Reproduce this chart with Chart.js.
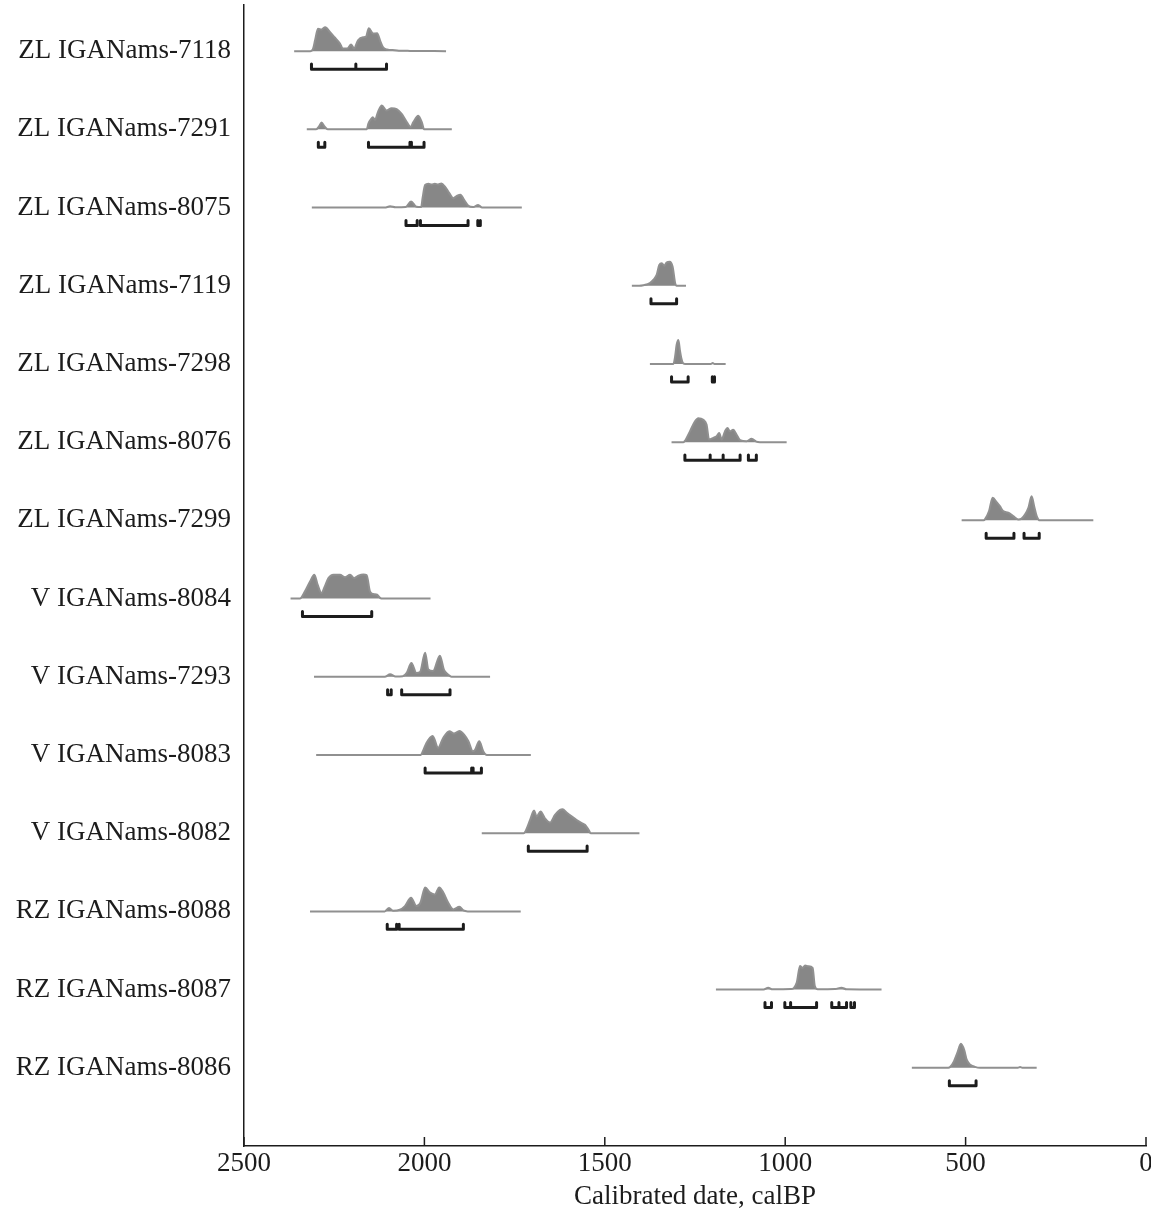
<!DOCTYPE html>
<html>
<head>
<meta charset="utf-8">
<title>Calibrated radiocarbon dates</title>
<script src="https://cdn.jsdelivr.net/npm/chart.js@4/dist/chart.umd.min.js"></script>
<style>
  html, body { margin: 0; padding: 0; background: #ffffff; }
  canvas { display: block; }
</style>
</head>
<body>
<canvas id="chart" width="1151" height="1213"></canvas>
<script>
// Sample names, top to bottom
const sampleLabels = [
  'ZL IGANams-7118', 'ZL IGANams-7291', 'ZL IGANams-8075', 'ZL IGANams-7119',
  'ZL IGANams-7298', 'ZL IGANams-8076', 'ZL IGANams-7299', 'V IGANams-8084',
  'V IGANams-7293', 'V IGANams-8083', 'V IGANams-8082', 'RZ IGANams-8088',
  'RZ IGANams-8087', 'RZ IGANams-8086'
];

// Extent of each probability baseline, [older, younger] cal BP
const curveSpans = [
  [2361, 1940], [2326, 1924], [2312, 1730], [1425, 1275], [1375, 1165],
  [1315, 996], [511, 146], [2371, 1983], [2306, 1818], [2300, 1705],
  [1841, 1404], [2317, 1733], [1192, 733], [649, 303]
];

// Calibrated probability densities: [cal BP, relative probability %]
const density7118 = [[2316,0],[2309,8],[2303,45],[2295,93],[2285,90],[2275,100],[2262,80],[2249,58],[2234,32],[2226,11],[2214,11],[2203,28],[2195,11],[2184,45],[2170,58],[2162,60],[2154,95],[2142,73],[2131,75],[2123,45],[2115,17],[2104,7],[2082,4],[2068,2],[2040,1]];
const density7291 = [[2300,0],[2292,12],[2285,29],[2277,12],[2268,0],[2160,0],[2155,25],[2147,45],[2143,50],[2137,40],[2128,75],[2118,99],[2105,78],[2091,88],[2077,84],[2063,64],[2051,36],[2038,10],[2031,29],[2017,57],[2007,29],[2001,0]];
const density8075 = [[2110,0],[2095,5],[2080,1],[2052,2],[2037,25],[2022,3],[2009,2],[2005,40],[1998,94],[1989,99],[1980,96],[1971,99],[1962,96],[1953,100],[1943,87],[1931,60],[1920,39],[1909,49],[1900,53],[1890,32],[1878,7],[1865,2],[1851,11],[1840,0]];
const density7119 = [[1405,0],[1393,2],[1375,11],[1365,25],[1356,46],[1349,87],[1342,94],[1335,83],[1329,97],[1320,100],[1312,79],[1305,11],[1301,0]];
const density7298 = [[1310,0],[1305,32],[1301,79],[1296,100],[1292,59],[1288,25],[1284,5],[1278,0],[1206,0],[1201,4],[1196,0]];
const density8076 = [[1282,0],[1278,5],[1264,45],[1250,87],[1241,100],[1227,93],[1218,73],[1211,11],[1199,18],[1190,25],[1183,38],[1176,11],[1167,45],[1160,59],[1153,45],[1144,52],[1135,32],[1125,8],[1107,4],[1093,14],[1080,2],[1070,0]];
const density7299 = [[450,0],[446,5],[435,39],[425,94],[414,76],[405,59],[396,39],[382,32],[368,18],[354,4],[345,7],[335,25],[326,52],[317,100],[310,59],[303,18],[294,0]];
const density8084 = [[2345,0],[2331,30],[2317,71],[2305,99],[2296,58],[2285,23],[2276,51],[2266,85],[2252,99],[2234,99],[2220,89],[2206,99],[2195,85],[2183,95],[2169,100],[2160,98],[2151,30],[2142,19],[2131,16],[2123,3],[2115,0]];
const density7293 = [[2110,0],[2095,10],[2080,1],[2060,2],[2049,16],[2036,57],[2022,16],[2012,20],[1998,100],[1989,30],[1976,24],[1957,88],[1946,30],[1934,9],[1925,0]];
const density8083 = [[2010,0],[2003,20],[1994,51],[1977,79],[1962,30],[1948,71],[1931,99],[1918,89],[1903,100],[1890,85],[1878,57],[1866,16],[1860,20],[1848,57],[1837,16],[1827,0]];
const density8082 = [[1725,0],[1721,5],[1707,55],[1696,94],[1689,70],[1678,90],[1666,62],[1652,44],[1638,76],[1624,97],[1617,100],[1606,86],[1592,70],[1578,55],[1564,42],[1555,35],[1545,14],[1539,0]];
const density8088 = [[2110,0],[2098,14],[2087,3],[2068,7],[2054,22],[2037,57],[2022,22],[2011,36],[1998,99],[1984,78],[1971,70],[1959,100],[1948,80],[1934,36],[1920,8],[1903,19],[1892,4],[1880,0]];
const density8087 = [[1060,0],[1047,8],[1035,1],[985,2],[968,29],[959,98],[952,90],[945,100],[936,97],[924,90],[918,15],[910,1],[862,2],[844,8],[830,1]];
const density8086 = [[548,0],[543,3],[532,28],[523,62],[513,100],[504,75],[497,34],[488,14],[474,4],[460,0],[355,0],[349,3],[343,0]];

const densityCurves = [
  density7118, density7291, density8075, density7119, density7298, density8076, density7299,
  density8084, density7293, density8083, density8082, density8088, density8087, density8086
];

// 95.4% probability ranges, [from, to] cal BP
const rangeBrackets = [
  [[2313, 2190], [2190, 2105]],
  [[2294, 2276], [2155, 2040], [2036, 2001]],
  [[2051, 2020], [2011, 1879], [1852, 1845]],
  [[1372, 1301]],
  [[1315, 1269], [1202, 1196]],
  [[1278, 1208], [1208, 1172], [1172, 1125], [1102, 1080]],
  [[443, 366], [338, 296]],
  [[2338, 2146]],
  [[2102, 2092], [2063, 1929]],
  [[1998, 1869], [1865, 1842]],
  [[1712, 1549]],
  [[2103, 2077], [2070, 1892]],
  [[1056, 1038], [1001, 985], [985, 913], [871, 851], [851, 830], [818, 808]],
  [[545, 471]]
];

const axisTicks = [2500, 2000, 1500, 1000, 500, 0];

// Row geometry in y-axis units (one unit per sample row)
const PEAK_HEIGHT = 0.307;
const BRACKET_DROP = 0.23;
const HOOK = 0.065;

const serif = '"Liberation Serif", "Times New Roman", "DejaVu Serif", serif';
const ink = '#1c1c1c';
const FONT_SIZE = 27;

const datasets = [];
sampleLabels.forEach((name, i) => {
  const row = i + 1;
  const [older, younger] = curveSpans[i];
  const curve = [{ x: older, y: row }]
    .concat(densityCurves[i].map(([yr, p]) => ({ x: yr, y: row - PEAK_HEIGHT * p / 100 })))
    .concat([{ x: younger, y: row }]);
  datasets.push({
    label: name,
    data: curve,
    borderColor: '#909090',
    borderWidth: 2,
    backgroundColor: '#878787',
    fill: { value: row },
    pointRadius: 0,
    cubicInterpolationMode: 'monotone',
    order: 2
  });

  const yb = row + BRACKET_DROP;
  const marks = [];
  rangeBrackets[i].forEach(([from, to]) => {
    marks.push({ x: from, y: yb - HOOK }, { x: from, y: yb }, { x: to, y: yb }, { x: to, y: yb - HOOK }, { x: to, y: null });
  });
  datasets.push({
    label: name + ' 95.4%',
    data: marks,
    borderColor: ink,
    borderWidth: 3,
    borderCapStyle: 'round',
    borderJoinStyle: 'round',
    fill: false,
    pointRadius: 0,
    spanGaps: false,
    order: 1
  });
});

// Tick marks on the time axis point up into the plot
const innerTicks = {
  id: 'innerTicks',
  afterDraw(chart) {
    const s = chart.scales.x;
    const base = chart.chartArea.bottom;
    const ctx = chart.ctx;
    ctx.save();
    ctx.strokeStyle = ink;
    ctx.lineWidth = 1.5;
    s.ticks.forEach(t => {
      const px = s.getPixelForValue(t.value);
      ctx.beginPath();
      ctx.moveTo(px, base);
      ctx.lineTo(px, base - 9);
      ctx.stroke();
    });
    ctx.restore();
  }
};

new Chart(document.getElementById('chart'), {
  type: 'line',
  data: { datasets },
  plugins: [innerTicks],
  options: {
    responsive: false,
    animation: false,
    devicePixelRatio: 1,
    layout: { padding: { left: 0, top: 5, right: 5, bottom: 0 } },
    plugins: { legend: { display: false }, tooltip: { enabled: false } },
    scales: {
      x: {
        type: 'linear',
        position: 'bottom',
        reverse: true,
        min: 0,
        max: 2500,
        afterBuildTicks: s => { s.ticks = axisTicks.map(v => ({ value: v })); },
        ticks: { callback: v => String(v), font: { family: serif, size: FONT_SIZE }, color: ink, padding: 2, maxRotation: 0, autoSkip: false },
        grid: { display: false, drawTicks: false },
        border: { display: true, color: ink, width: 1.5 },
        title: { display: true, text: 'Calibrated date, calBP', font: { family: serif, size: FONT_SIZE }, color: ink, padding: { top: 4, bottom: 0 } },
        afterFit: s => { s.height = 67; s.paddingLeft = 0; s.paddingRight = 0; }
      },
      y: {
        type: 'linear',
        position: 'left',
        reverse: true,
        min: 0.41,
        max: 15.0,
        afterBuildTicks: s => { s.ticks = sampleLabels.map((_, i) => ({ value: i + 1 })); },
        ticks: { callback: (v, idx) => sampleLabels[idx], font: { family: serif, size: FONT_SIZE }, color: ink, padding: 13, autoSkip: false },
        grid: { display: false, drawTicks: false },
        border: { display: true, color: ink, width: 1.5 },
        afterFit: s => { s.width = 244; s.paddingTop = 0; s.paddingBottom = 0; }
      }
    }
  }
});
</script>
</body>
</html>
